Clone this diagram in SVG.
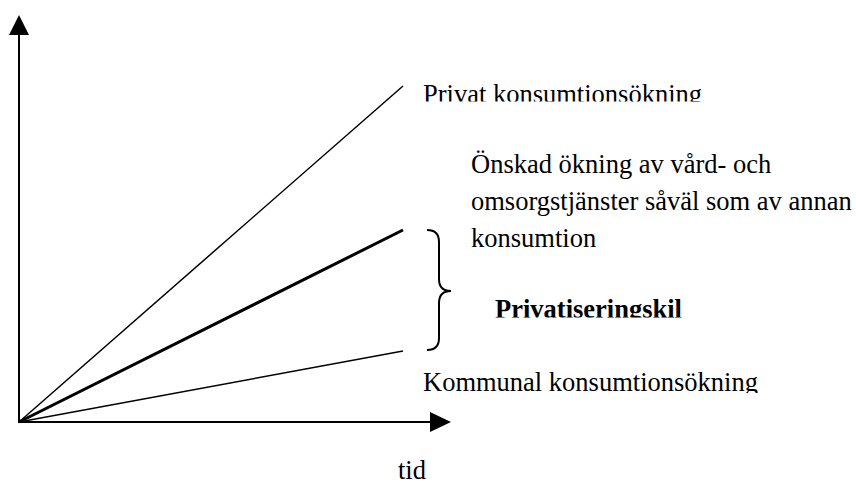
<svg xmlns="http://www.w3.org/2000/svg" width="856" height="486" viewBox="0 0 856 486">
<style>
.t{font-family:"Liberation Serif","Times New Roman",serif;font-size:26.5px;fill:#000}
.b{font-weight:bold}
.ax{stroke:#000;stroke-width:2;fill:none}
.ln{stroke:#000;stroke-width:1.5;fill:none}
.lt{stroke:#000;stroke-width:3;fill:none}
.ah{fill:#000}
</style>
<defs>
<clipPath id="c1"><rect x="400" y="60" width="400" height="41.5"/></clipPath>
<clipPath id="c2"><rect x="480" y="280" width="300" height="37.5"/></clipPath>
<clipPath id="c3"><rect x="400" y="355" width="400" height="38"/></clipPath>
</defs>
<rect width="856" height="486" fill="#fff"/>
<g id="axes">
<line class="ax" x1="19" y1="423" x2="19" y2="33"/>
<polygon class="ah" points="19,15 9,35 29,35"/>
<line class="ax" x1="18" y1="422" x2="432" y2="422"/>
<polygon class="ah" points="451,422 430,412 430,432"/>
</g>
<g id="connectors">
<line class="ln" x1="19" y1="422" x2="403" y2="86"/>
<line class="lt" x1="19" y1="422" x2="403" y2="230"/>
<line class="ln" x1="19" y1="422" x2="403" y2="351"/>
<path class="ax" d="M427,230 Q439,230 439,242 L439,279 Q439,291 451,291 Q439,291 439,303 L439,338 Q439,350 427,350"/>
</g>
<g id="label-privat"><text class="t" x="423" y="103" clip-path="url(#c1)">Privat konsumtionsökning</text></g>
<g id="label-onskad">
<text class="t" x="471" y="173">Önskad ökning av vård- och</text>
<text class="t" x="471" y="210">omsorgstjänster såväl som av annan</text>
<text class="t" x="471" y="247">konsumtion</text>
</g>
<g id="label-kil"><text class="t b" x="495" y="318" clip-path="url(#c2)">Privatiseringskil</text></g>
<g id="label-kommunal"><text class="t" x="423" y="391" clip-path="url(#c3)">Kommunal konsumtionsökning</text></g>
<g id="label-tid"><text class="t" x="398" y="479">tid</text></g>
</svg>
